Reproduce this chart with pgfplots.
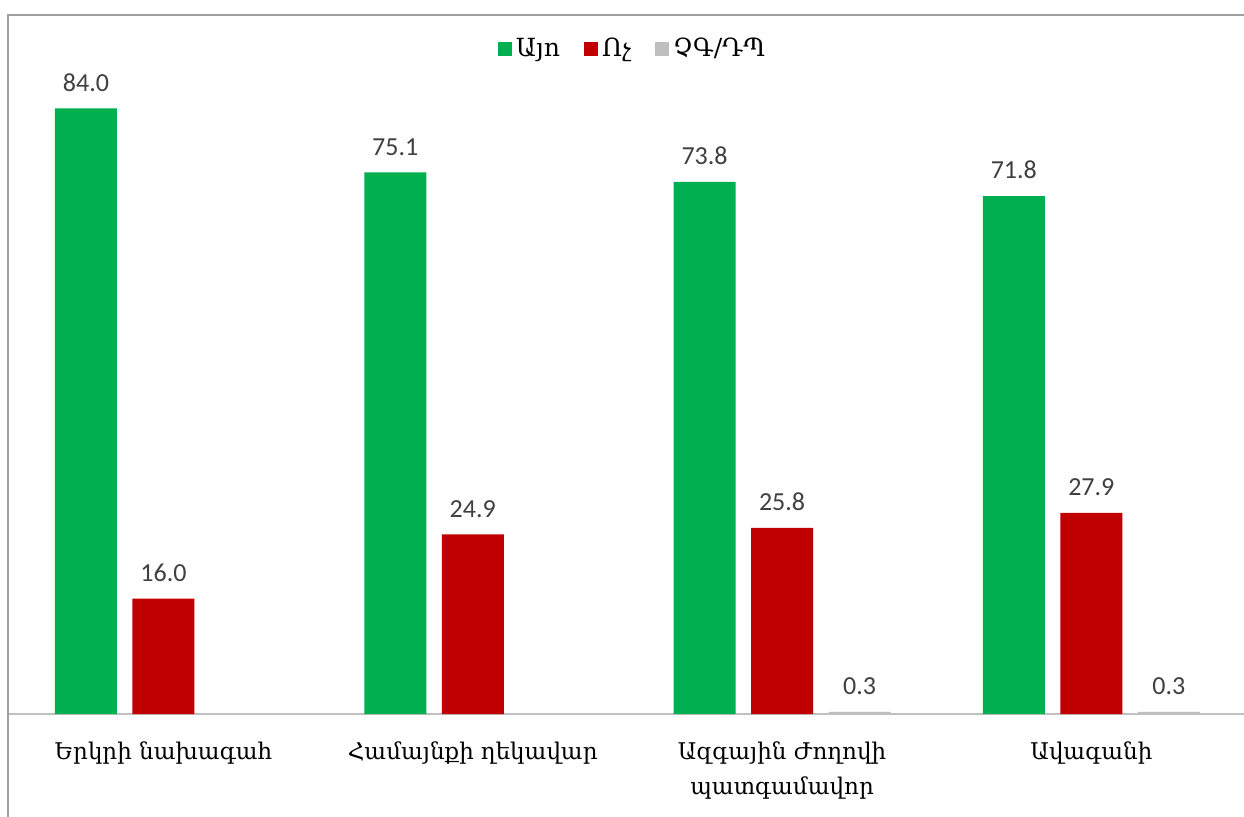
\documentclass[border=0pt]{standalone}
\usepackage{fontspec}
\setmainfont{Carlito}
\newfontfamily\armfont{DejaVu Serif}
\usepackage{pgfplots}
\pgfplotsset{compat=1.18}
\definecolor{cgreen}{HTML}{00B050}
\definecolor{cred}{HTML}{C00000}
\definecolor{cgray}{HTML}{BFBFBF}
\definecolor{lbl}{HTML}{404040}
\begin{document}
\begin{tikzpicture}
\useasboundingbox (0pt,0pt) rectangle (622pt,408pt);
\fill[white] (0pt,0pt) rectangle (622pt,408pt);
\draw[gray!75, line width=0.8pt] (4pt,-20pt) -- (4pt,400.5pt) -- (640pt,400.5pt);
\begin{axis}[
  at={(81.73pt,51pt)}, anchor=origin,
  scale only axis, width=618.6pt, height=324.5pt,
  xmin=-0.5, xmax=3.5, ymin=0, ymax=90,
  ybar=7.75pt, bar width=31pt,
  axis lines*=left,
  x axis line style={draw=cgray, line width=0.8pt, -},
  y axis line style={draw=none},
  ytick=\empty,
  xtick={0,1,2,3}, xtick style={draw=none},
  xticklabels={Երկրի նախագահ, Համայնքի ղեկավար, {Ազգային Ժողովի\\պատգամավոր}, Ավագանի},
  xticklabel style={font=\armfont\fontsize{11.5}{17.5}\selectfont, align=center, text=black, yshift=-6pt},
  nodes near coords,
  point meta=explicit symbolic,
  nodes near coords style={font=\fontsize{13}{15}\selectfont, text=lbl, anchor=south, yshift=5pt},
  legend style={at={(rel axis cs:0.505,1.025)}, anchor=center, draw=none, fill=none,
    legend columns=-1, font=\armfont\fontsize{12.5}{15}\selectfont,
    /tikz/every even column/.append style={column sep=10pt}},
  legend image code/.code={\fill[#1] (0pt,-3.5pt) rectangle (7pt,3.5pt);},
]
\addplot[fill=cgreen, draw=none] coordinates {(0,84.0)[84.0] (1,75.1)[75.1] (2,73.8)[73.8] (3,71.8)[71.8]};
\addplot[fill=cred, draw=none] coordinates {(0,16.0)[16.0] (1,24.9)[24.9] (2,25.8)[25.8] (3,27.9)[27.9]};
\addplot[fill=cgray, draw=none] coordinates {(2,0.3)[0.3] (3,0.3)[0.3]};
\legend{Այո, Ոչ, ՉԳ/ԴՊ}
\end{axis}
\end{tikzpicture}
\end{document}
